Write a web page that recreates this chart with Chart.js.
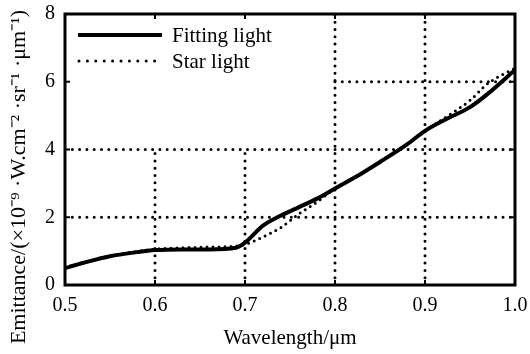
<!DOCTYPE html>
<html>
<head>
<meta charset="utf-8">
<script src="https://cdn.jsdelivr.net/npm/chart.js@4/dist/chart.umd.min.js"></script>
<style>
html,body{margin:0;padding:0;background:#fff;}
#wrap{width:530px;height:354px;}
</style>
</head>
<body>
<div id="wrap"><canvas id="c" width="530" height="354"></canvas></div>
<script>
// ---- data ----
const fitX  = [0.50,0.52,0.55,0.58,0.60,0.63,0.66,0.69,0.70,0.72,0.74,0.76,0.78,0.80,0.83,0.85,0.88,0.90,0.92,0.95,0.97,1.00];
const fitY  = [0.50,0.65,0.85,0.97,1.03,1.05,1.05,1.10,1.25,1.75,2.05,2.30,2.55,2.85,3.30,3.63,4.15,4.55,4.85,5.25,5.65,6.35];
const starX = [0.50,0.52,0.55,0.58,0.60,0.63,0.66,0.69,0.70,0.72,0.74,0.76,0.78,0.80,0.83,0.85,0.88,0.90,0.92,0.95,0.97,1.00];
const starY = [0.52,0.66,0.86,0.99,1.06,1.10,1.12,1.15,1.20,1.42,1.70,2.10,2.45,2.85,3.30,3.65,4.15,4.55,4.90,5.45,5.95,6.40];
const seriesNames = ["Fitting light","Star light"];
const xTicks = [0.5,0.6,0.7,0.8,0.9,1.0];
const yTicks = [0,2,4,6,8];
// partial dotted reference lines
const vGridX   = [0.6,0.7,0.8,0.9];
const vGridTop = [4,4,8,8];
const hGridY    = [2,4,6];
const hGridFrom = [0.5,0.5,0.8];
const xTitle = "Wavelength/\u03bcm";
const yTitle = "Emittance/(\u00d710\u207b\u2079 \u00b7W.cm\u207b\u00b2 \u00b7sr\u207b\u00b9 \u00b7\u03bcm\u207b\u00b9)";

const FONT = "'Liberation Serif', 'Times New Roman', serif";
const toPts = (xs, ys) => xs.map((x,i)=>({x:x,y:ys[i]}));

const gridSets = [];
vGridX.forEach((x,i)=>gridSets.push({
  label:'g', data:[{x:x,y:0},{x:x,y:vGridTop[i]}], borderColor:'#000', borderWidth:3,
  borderDash:[0,7.3], borderCapStyle:'round', pointRadius:0, order:3, tension:0
}));
hGridY.forEach((y,i)=>gridSets.push({
  label:'g', data:[{x:hGridFrom[i],y:y},{x:1.0,y:y}], borderColor:'#000', borderWidth:3,
  borderDash:[0,7.3], borderCapStyle:'round', pointRadius:0, order:3, tension:0
}));

const framePlugin = {
  id:'frame',
  afterDatasetsDraw(chart){
    const {ctx, chartArea:a, scales:{x,y}} = chart;
    ctx.save();
    // inward ticks
    ctx.strokeStyle='#000'; ctx.lineWidth=2;
    xTicks.forEach(v=>{const px=x.getPixelForValue(v);
      ctx.beginPath();ctx.moveTo(px,a.bottom);ctx.lineTo(px,a.bottom-5);ctx.stroke();
      ctx.beginPath();ctx.moveTo(px,a.top);ctx.lineTo(px,a.top+5);ctx.stroke();});
    yTicks.forEach(v=>{const py=y.getPixelForValue(v);
      ctx.beginPath();ctx.moveTo(a.left,py);ctx.lineTo(a.left+5,py);ctx.stroke();
      ctx.beginPath();ctx.moveTo(a.right,py);ctx.lineTo(a.right-5,py);ctx.stroke();});
    // frame
    ctx.lineWidth=3;
    ctx.strokeRect(a.left,a.top,a.right-a.left,a.bottom-a.top);
    // legend
    const lx0=a.left+13, lx1=a.left+97, tx=a.left+107;
    ctx.lineWidth=4; ctx.setLineDash([]);
    ctx.beginPath();ctx.moveTo(lx0,35);ctx.lineTo(lx1,35);ctx.stroke();
    ctx.lineWidth=3; ctx.lineCap='round'; ctx.setLineDash([0,8.4]);
    ctx.beginPath();ctx.moveTo(lx0+1,61);ctx.lineTo(lx1,61);ctx.stroke();
    ctx.setLineDash([]);
    ctx.fillStyle='#000'; ctx.font="21px "+FONT; ctx.textBaseline='middle'; ctx.textAlign='left';
    ctx.fillText(seriesNames[0],tx,36);
    ctx.fillText(seriesNames[1],tx,62);
    // y axis title
    ctx.save();
    ctx.translate(19,177); ctx.rotate(-Math.PI/2);
    ctx.font="22px "+FONT; ctx.textAlign='center'; ctx.textBaseline='middle';
    ctx.fillText(yTitle,0,0);
    ctx.restore();
    ctx.restore();
  }
};

new Chart(document.getElementById('c'), {
  type:'line',
  data:{datasets:[
    {label:seriesNames[0], data:toPts(fitX,fitY), borderColor:'#000', borderWidth:4,
     pointRadius:0, tension:0.3, cubicInterpolationMode:'monotone', order:1},
    {label:seriesNames[1], data:toPts(starX,starY), borderColor:'#000', borderWidth:3,
     borderDash:[0,6], borderCapStyle:'round', pointRadius:0, tension:0.3, cubicInterpolationMode:'monotone', order:2},
    ...gridSets
  ]},
  options:{
    responsive:false, animation:false,
    layout:{padding:{left:0,right:15,top:14,bottom:0}},
    plugins:{legend:{display:false}, tooltip:{enabled:false}},
    scales:{
      x:{type:'linear', min:0.5, max:1.0,
         afterBuildTicks:(s)=>{s.ticks = xTicks.map(v=>({value:v}));},
         afterFit:(s)=>{s.height=69; s.paddingLeft=0; s.paddingRight=0;},
         ticks:{color:'#000', font:{family:FONT,size:20}, padding:9, maxRotation:0,
                callback:(v)=>Number(v).toFixed(1)},
         grid:{display:false, drawTicks:false}, border:{display:false},
         title:{display:true, text:xTitle, color:'#000', font:{family:FONT,size:21}, padding:{top:8,bottom:3}}},
      y:{type:'linear', min:0, max:8,
         afterBuildTicks:(s)=>{s.ticks = yTicks.map(v=>({value:v}));},
         afterFit:(s)=>{s.width=65; s.paddingTop=0; s.paddingBottom=0;},
         ticks:{color:'#000', font:{family:FONT,size:20}, padding:10, callback:(v)=>String(v)},
         grid:{display:false, drawTicks:false}, border:{display:false},
         title:{display:false}}
    }
  },
  plugins:[framePlugin]
});
</script>
</body>
</html>
